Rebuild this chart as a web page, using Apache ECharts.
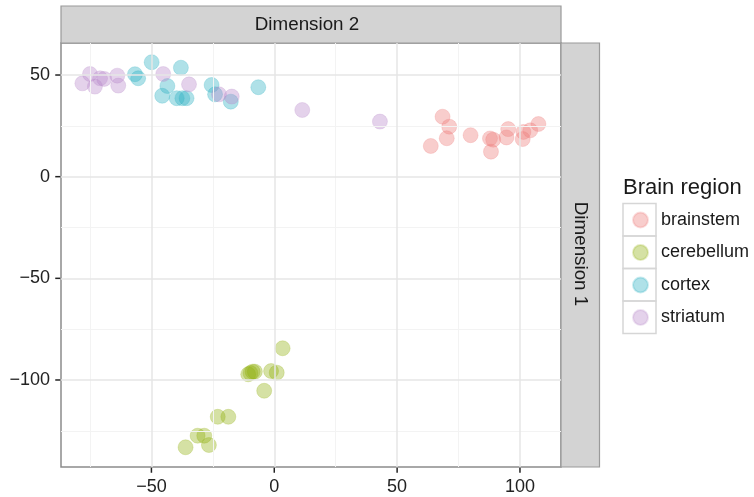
<!DOCTYPE html>
<html>
<head>
<meta charset="utf-8">
<script src="https://cdn.jsdelivr.net/npm/echarts@6/dist/echarts.min.js"></script>
<style>
html,body{margin:0;padding:0;background:#fff;}
#chart{width:754px;height:497px;}
</style>
</head>
<body>
<div id="chart"></div>
<script>
// ---- data ----
const categories = ['brainstem', 'cerebellum', 'cortex', 'striatum'];
const colors = ['#EE7D7A', '#93B012', '#2EB0C2', '#BA8ACB'];

const brainstem = [
  [68.5, 29.5], [71.2, 24.6], [70.2, 18.9], [63.7, 15.1], [79.9, 20.4],
  [87.8, 18.8], [89.1, 18.2], [88.2, 12.3], [95.2, 23.4], [94.5, 19.3],
  [101.4, 22.0], [101.1, 18.5], [104.2, 22.8], [107.5, 25.9]
];
const cerebellum = [
  [3.4, -84.4], [-10.6, -97.2], [-8.8, -95.9], [-7.9, -95.9], [-9.7, -96.6],
  [-1.3, -95.6], [1.0, -96.4], [-4.1, -105.3], [-23.0, -118.1], [-18.7, -118.1],
  [-31.2, -127.4], [-28.5, -127.4], [-26.6, -132.0], [-36.1, -133.1]
];
const cortex = [
  [-56.7, 50.4], [-55.4, 48.4], [-49.9, 56.3], [-38.0, 53.6], [-43.5, 44.6],
  [-45.6, 39.8], [-39.7, 38.6], [-37.4, 38.6], [-35.7, 38.6], [-25.5, 45.1],
  [-24.1, 40.5], [-17.7, 36.9], [-6.5, 44.0]
];
const striatum = [
  [-78.1, 45.9], [-75.0, 50.5], [-73.0, 44.3], [-70.9, 48.4], [-69.2, 48.1],
  [-63.9, 49.7], [-63.5, 44.8], [-45.2, 50.5], [-34.7, 45.4], [-22.5, 40.5],
  [-17.3, 39.4], [11.4, 32.8], [43.0, 27.1]
];
const seriesValues = [brainstem, cerebellum, cortex, striatum];

const xTicks = [-50, 0, 50, 100];
const yTicks = [-100, -50, 0, 50];
const xMinor = [-75, -25, 25, 75];
const yMinor = [-125, -75, -25, 25];
const xRange = [-86.8, 116.7];
const yRange = [-142.8, 65.75];

const legendTitle = 'Brain region';
const stripTop = 'Dimension 2';
const stripRight = 'Dimension 1';

// ---- chart ----
function rgba(hex, a) {
  const n = parseInt(hex.slice(1), 16);
  return 'rgba(' + (n >> 16) + ',' + ((n >> 8) & 255) + ',' + (n & 255) + ',' + a + ')';
}
const fmt = v => String(v).replace('-', '\u2212');
const FONT = 'Liberation Sans, Arial, Helvetica, sans-serif';
const TXT = '#1a1a1a';
const BORDER = '#8c8c8c';
const TICK_LEN = 5;

const chart = echarts.init(document.getElementById('chart'), null, {renderer: 'canvas'});

const gridLines = [];
xMinor.forEach(v => gridLines.push({xAxis: v, lineStyle: {color: '#f3f3f3', width: 1, type: 'solid'}}));
yMinor.forEach(v => gridLines.push({yAxis: v, lineStyle: {color: '#f3f3f3', width: 1, type: 'solid'}}));
xTicks.forEach(v => gridLines.push({xAxis: v, lineStyle: {color: '#e6e6e6', width: 1.5, type: 'solid'}}));
yTicks.forEach(v => gridLines.push({yAxis: v, lineStyle: {color: '#e6e6e6', width: 1.5, type: 'solid'}}));

const series = [{
  type: 'scatter',
  data: [],
  z: 1,
  silent: true,
  markLine: {
    silent: true,
    symbol: ['none', 'none'],
    label: {show: false},
    lineStyle: {type: 'solid'},
    emphasis: {disabled: true},
    animation: false,
    data: gridLines
  }
}];
categories.forEach((c, i) => {
  series.push({
    name: c,
    type: 'scatter',
    z: 3,
    symbol: 'circle',
    symbolSize: 15,
    data: seriesValues[i],
    itemStyle: {
      color: rgba(colors[i], 0.48),
      borderColor: rgba(colors[i], 0.3),
      borderWidth: 1
    },
    emphasis: {disabled: true}
  });
});

// outside tick marks, placed through the axes' scales
series.push({
  type: 'custom', silent: true, z: 5, clip: false,
  data: xTicks.map(v => [v, yRange[0]]),
  renderItem: (params, api) => {
    const p = api.coord([api.value(0), api.value(1)]);
    return {type: 'line', shape: {x1: p[0], y1: p[1] + 0.75, x2: p[0], y2: p[1] + 0.75 + TICK_LEN},
            style: {stroke: '#222', lineWidth: 1.5}};
  }
});
series.push({
  type: 'custom', silent: true, z: 5, clip: false,
  data: yTicks.map(v => [xRange[0], v]),
  renderItem: (params, api) => {
    const p = api.coord([api.value(0), api.value(1)]);
    return {type: 'line', shape: {x1: p[0] - 0.75, y1: p[1], x2: p[0] - 0.75 - TICK_LEN, y2: p[1]},
            style: {stroke: '#222', lineWidth: 1.5}};
  }
});

function makeAxis(range, ticks) {
  return {
    type: 'value',
    min: range[0], max: range[1],
    axisLine: {show: false, onZero: false},
    splitLine: {show: false},
    axisTick: {show: false},
    axisLabel: {color: '#222', fontSize: 18, fontFamily: FONT, margin: 11, formatter: fmt,
                customValues: ticks}
  };
}

chart.setOption({
  animation: false,
  backgroundColor: '#fff',
  grid: {
    left: 61, right: 193, top: 43, bottom: 30,
    show: true, borderColor: BORDER, borderWidth: 1.5, backgroundColor: 'transparent'
  },
  xAxis: makeAxis(xRange, xTicks),
  yAxis: makeAxis(yRange, yTicks),
  legend: {
    data: categories,
    orient: 'vertical',
    left: 632, top: 211,
    padding: 0,
    icon: 'circle',
    itemWidth: 15, itemHeight: 15,
    itemGap: 14.5,
    selectedMode: false,
    textStyle: {color: TXT, fontSize: 18, fontFamily: FONT, padding: [0, 0, 0, 8]}
  },
  graphic: [
    ...categories.map((c, i) => ({
      id: 'key' + i, type: 'rect', silent: true, z: -1,
      shape: {x: 623, y: 203.5 + i * 32.5, width: 33, height: 32.5},
      style: {fill: 'none', stroke: '#d6d6d6', lineWidth: 1.5}
    })),
    {
      id: 'legendTitle', type: 'text', silent: true,
      style: {text: legendTitle, x: 623, y: 188, fill: TXT, fontSize: 22, fontFamily: FONT,
              verticalAlign: 'middle', align: 'left'}
    },
    {
      id: 'stripTopRect', type: 'rect', silent: true,
      shape: {x: 61, y: 6, width: 500, height: 37},
      style: {fill: '#d3d3d3', stroke: '#9a9a9a', lineWidth: 1.2}
    },
    {
      id: 'stripTopText', type: 'text', silent: true,
      style: {text: stripTop, x: 307, y: 24.5, fill: TXT, fontSize: 18.8, fontFamily: FONT,
              align: 'center', verticalAlign: 'middle'}
    },
    {
      id: 'stripRightRect', type: 'rect', silent: true,
      shape: {x: 561, y: 43, width: 38.5, height: 424},
      style: {fill: '#d3d3d3', stroke: '#9a9a9a', lineWidth: 1.2}
    },
    {
      id: 'stripRightText', type: 'text', silent: true,
      x: 580, y: 254, rotation: -Math.PI / 2,
      style: {text: stripRight, x: 0, y: 0, fill: TXT, fontSize: 18.8, fontFamily: FONT,
              align: 'center', verticalAlign: 'middle'}
    }
  ],
  series: series
});
</script>
</body>
</html>
